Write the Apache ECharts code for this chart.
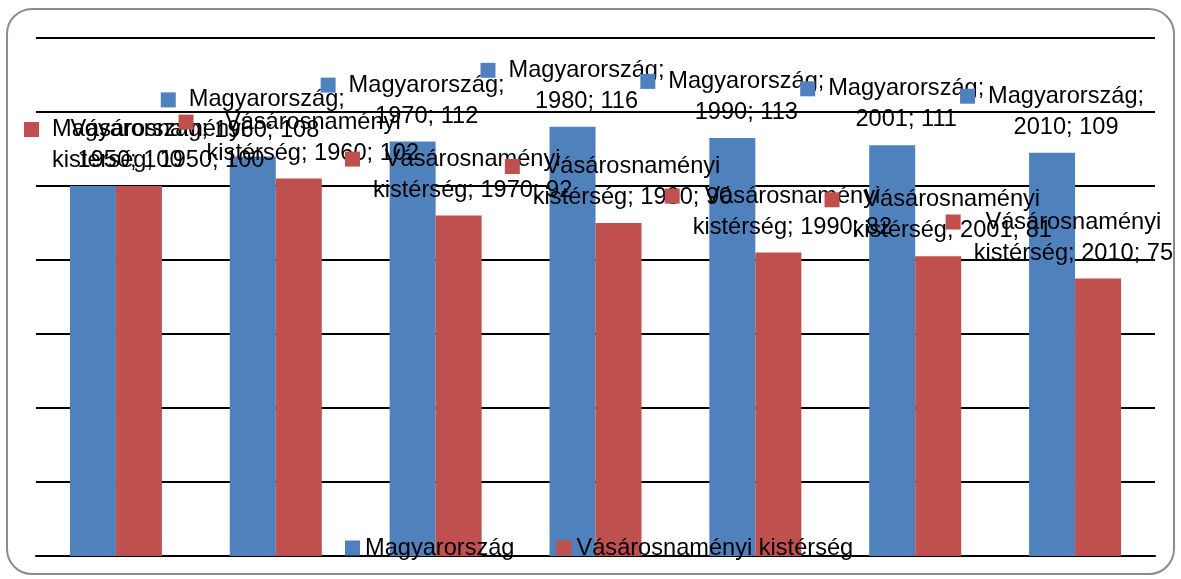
<!DOCTYPE html>
<html>
<head>
<meta charset="utf-8">
<script src="https://cdn.jsdelivr.net/npm/echarts@6/dist/echarts.min.js"></script>
<style>
  html, body { margin: 0; padding: 0; background: #fff; }
  #chart { width: 1181px; height: 579px; }
</style>
</head>
<body>
<div id="chart"></div>
<script>
// adatok
const years = ['1950', '1960', '1970', '1980', '1990', '2001', '2010'];
const seriesNames = ['Magyarország', 'Vásárosnaményi kistérség'];
const magyarorszag = [100, 108, 112, 116, 113, 111, 109];
const vasarosnamenyi = [100, 102, 92, 90, 82, 81, 75];
const yMin = 0, yMax = 140, yStep = 20;

const blue = '#4F81BD';
const red = '#C0504D';
const font = '"Liberation Sans", Arial, sans-serif';

let myChart = echarts.init(document.getElementById('chart'));

// Excel-style data label: "Név; év; érték", broken after the first word, key square in front
function labelText(params) {
  const full = params.seriesName + '; ' + params.name + '; ' + params.value;
  const i = full.indexOf(' ');
  return '{k|}{g|}{t|' + full.slice(0, i) + '}\n{s|}{t|' + full.slice(i + 1) + '}';
}

function barLabel(color) {
  return {
    show: true,
    position: 'top',
    distance: 10,
    lineHeight: 31,
    formatter: labelText,
    rich: {
      k: { width: 15, height: 15, backgroundColor: color, align: 'left' },
      g: { width: 13, align: 'left' },
      s: { width: 28, align: 'left' },
      t: { align: 'center', fontSize: 23.6, lineHeight: 31, color: '#000', fontFamily: font }
    }
  };
}

// keep labels inside the chart area, like Excel does
function keepInside(params) {
  const r = params.labelRect;
  const minX = 24, maxX = myChart.getWidth() - 8;
  let dx = 0;
  if (r.x < minX) dx = minX - r.x;
  else if (r.x + r.width > maxX) dx = maxX - r.x - r.width;
  return { dx: dx };
}

let option = {
  animation: false,
  graphic: [{
    type: 'rect',
    shape: { x: 7, y: 9, width: 1167, height: 565, r: 25 },
    style: { fill: 'none', stroke: '#8c8c8c', lineWidth: 2 },
    silent: true
  }],
  grid: {
    left: 36,
    right: 26,
    top: 38,
    bottom: 23
  },
  legend: {
    data: seriesNames,
    left: 340,
    top: 531,
    icon: 'rect',
    itemWidth: 15,
    itemHeight: 15,
    itemGap: 42,
    textStyle: { fontSize: 23.6, fontFamily: font, color: '#000' }
  },
  xAxis: {
    type: 'category',
    data: years,
    axisTick: { show: false },
    axisLabel: { show: false },
    axisLine: { lineStyle: { color: '#000', width: 2 } }
  },
  yAxis: {
    type: 'value',
    min: yMin,
    max: yMax,
    interval: yStep,
    axisLabel: { show: false },
    axisLine: { show: false },
    axisTick: { show: false },
    splitLine: { lineStyle: { color: '#000', width: 2 } }
  },
  series: [
    {
      name: seriesNames[0],
      type: 'bar',
      barWidth: 46,
      barGap: '0%',
      itemStyle: { color: blue },
      label: barLabel(blue),
      labelLayout: keepInside,
      data: magyarorszag
    },
    {
      name: seriesNames[1],
      type: 'bar',
      barWidth: 46,
      barGap: '0%',
      itemStyle: { color: red },
      label: barLabel(red),
      labelLayout: keepInside,
      data: vasarosnamenyi
    }
  ]
};
myChart.setOption(option);
</script>
</body>
</html>
